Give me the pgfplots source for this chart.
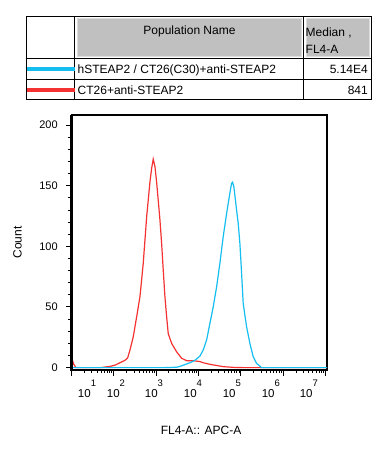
\documentclass[border=0pt]{standalone}
\usepackage{fontspec}
\setmainfont{Liberation Sans}
\usepackage{pgfplots}
\pgfplotsset{compat=1.18}
\usetikzlibrary{backgrounds}
\definecolor{cy}{RGB}{20,190,240}
\definecolor{rd}{RGB}{245,50,50}
\definecolor{hdr}{RGB}{192,192,192}
\newcommand{\tl}[1]{10\raisebox{10.3pt}{\fontsize{9.5}{10}\selectfont #1}}
\begin{document}
\begin{tikzpicture}[x=1pt,y=1pt,font=\fontsize{12}{14}\selectfont]
\begin{axis}[
  scale only axis,
  width=255.5pt, height=255pt,
  xmin=1, xmax=7.03, ymin=-1.98, ymax=208.4,
  axis line style={line width=1.3pt},
  tick align=outside, xtick pos=bottom, ytick pos=left,
  xtick={1,2,3,4,5,6,7}, xticklabels={,,,,,,},
  minor xtick={1.301,1.477,1.602,1.699,1.778,1.845,1.903,1.954,
               2.301,2.477,2.602,2.699,2.778,2.845,2.903,2.954,
               3.301,3.477,3.602,3.699,3.778,3.845,3.903,3.954,
               4.301,4.477,4.602,4.699,4.778,4.845,4.903,4.954,
               5.301,5.477,5.602,5.699,5.778,5.845,5.903,5.954,
               6.301,6.477,6.602,6.699,6.778,6.845,6.903,6.954},
  ytick={0,50,100,150,200}, minor y tick num=4,
  major tick length=5.5pt, minor tick length=3pt,
  every tick/.append style={black, line width=1pt},
  extra x ticks={1.366,2.050,2.946,3.866,4.785,5.705,6.601},
  extra x tick labels={\tl{1},\tl{2},\tl{3},\tl{4},\tl{5},\tl{6},\tl{7}},
  extra x tick style={major tick length=0pt, xticklabel style={anchor=base, yshift=-27pt, font=\fontsize{11.5}{13}\selectfont}},
  yticklabel style={font=\fontsize{11}{13}\selectfont, xshift=-4.8pt},
  /pgf/number format/assume math mode=true,
  ylabel={Count}, xlabel={FL4-A:: APC-A},
  every axis y label/.style={at={(axis description cs:-0.211,0.5)}, rotate=90, anchor=center},
  every axis x label/.style={at={(axis description cs:0.507,-0.251)}, anchor=base},
  after end axis/.code={\draw[line width=2.6pt] (rel axis cs:0,1) -- (rel axis cs:0,0) -- (rel axis cs:1,0);},
]
\addplot[rd, line width=1.2pt] coordinates {
(1.0,8.5) (1.05,3) (1.105,0) (1.696,0) (1.8,0.5) (1.908,1) (2.026,2) (2.144,4)
(2.262,6) (2.325,8) (2.38,14.5) (2.458,25.5) (2.538,42) (2.616,58.5) (2.693,86)
(2.774,124.5) (2.851,153) (2.892,164.5) (2.929,172) (2.969,166) (3.009,153)
(3.047,138) (3.087,122) (3.127,102.5) (3.165,80.5) (3.205,58.5) (3.245,42)
(3.283,28) (3.363,20) (3.481,13) (3.599,7.7) (3.717,5.7) (3.873,5.7) (4.031,5)
(4.108,4) (4.267,2.7) (4.58,0.8) (4.816,0.2) (5.04,0) (7.03,0)
};
\addplot[cy, line width=1.2pt] coordinates {
(1.0,0) (3.205,0) (3.481,0.3) (3.559,1) (3.795,4) (3.913,6) (4.031,9.5)
(4.108,14.5) (4.189,22.8) (4.267,36.5) (4.344,50) (4.425,66.7) (4.502,86)
(4.58,108) (4.66,127) (4.738,144) (4.778,152) (4.802,153) (4.833,149)
(4.896,130) (4.934,119) (4.974,102.5) (5.014,78) (5.052,53) (5.132,33.7)
(5.21,20) (5.288,9) (5.368,3.5) (5.486,0) (7.03,0)
};
\coordinate (O) at (rel axis cs:0,0);
\end{axis}
\pgfresetboundingbox
\begin{scope}[shift={(O)}, xshift=-71.5pt, yshift=-80pt]
\useasboundingbox (0,0) rectangle (380,450);
\begin{scope}[on background layer]
\fill[white] (0,0) rectangle (380,450);
\end{scope}
% table header cells
\fill[hdr] (77,393.5) rectangle (302,431.5);
\draw[hdr!55!white, line width=0.8pt] (77.4,393.9) rectangle (301.6,431.1);
\fill[hdr] (305.5,393.5) rectangle (370,431.5);
\draw[hdr!55!white, line width=0.8pt] (305.9,393.9) rectangle (369.6,431.1);
% table lines
\draw[line width=1pt] (26.5,350) rectangle (371.5,433.3);
\draw[line width=1pt] (26.5,391.7) -- (371.5,391.7);
\draw[line width=1pt] (26.5,370.5) -- (371.5,370.5);
\draw[line width=1pt] (75,350) -- (75,433.3);
\draw[line width=1pt] (303.5,350) -- (303.5,433.3);
% swatches
\draw[cy, line width=4pt] (27,380.7) -- (75,380.7);
\draw[rd, line width=4pt] (27,360) -- (75,360);
% texts
\node[anchor=base, inner sep=0] at (189.5,415) {Population Name};
\node[anchor=base west, inner sep=0] at (305.5,413.3) {Median ,};
\node[anchor=base west, inner sep=0] at (305.5,396) {FL4-A};
\node[anchor=base west, inner sep=0] at (77.5,376) {hSTEAP2 / CT26(C30)+anti-STEAP2};
\node[anchor=base east, inner sep=0] at (368,376) {5.14E4};
\node[anchor=base west, inner sep=0] at (77.5,355.7) {CT26+anti-STEAP2};
\node[anchor=base east, inner sep=0] at (368,355.7) {841};
\end{scope}
\end{tikzpicture}
\end{document}
